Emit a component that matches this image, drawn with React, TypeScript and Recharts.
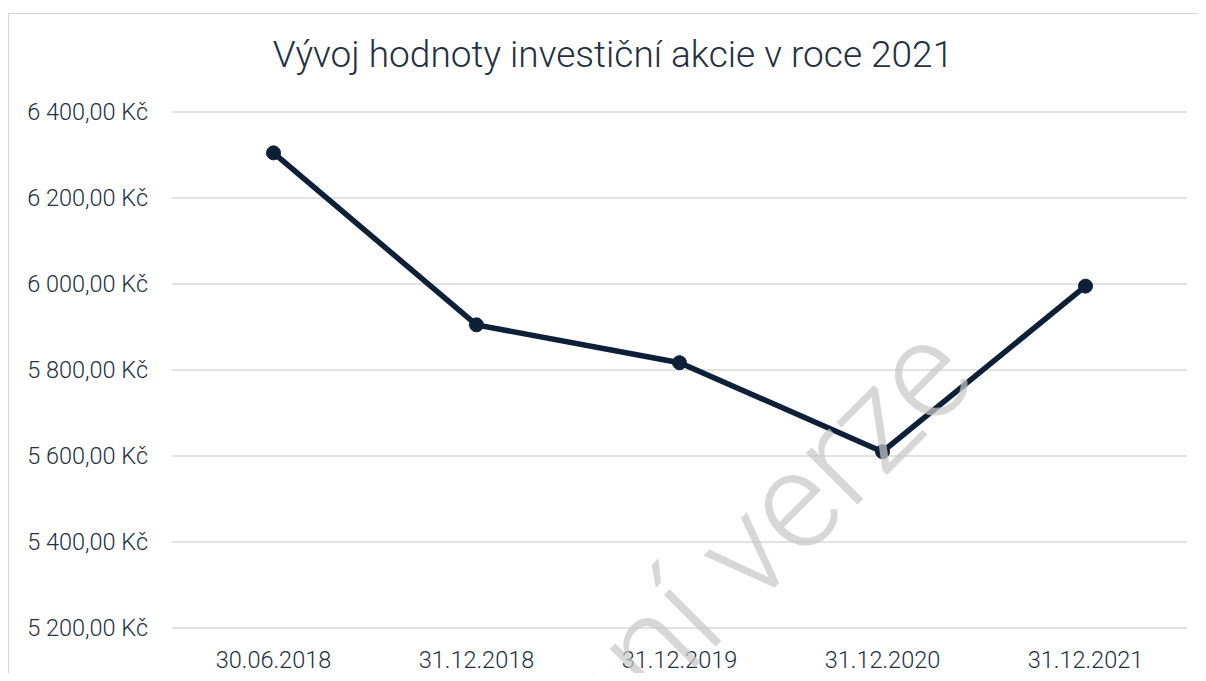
import React from "react";
import { LineChart, Line, XAxis, YAxis, CartesianGrid } from "recharts";

const categories = ["30.06.2018", "31.12.2018", "31.12.2019", "31.12.2020", "31.12.2021"];
const values = [6305, 5905, 5817, 5610, 5995];
const yTicks = [5200, 5400, 5600, 5800, 6000, 6200, 6400];
const title = "Vývoj hodnoty investiční akcie v roce 2021";
const watermark = "Zkušební verze";

const data = categories.map((c, i) => ({ name: c, value: values[i] }));

const fmt = (v: number) => {
  const s = Math.round(v).toString();
  const withSep = s.replace(/\B(?=(\d{3})+(?!\d))/g, " ");
  return `${withSep},00 Kč`;
};

const W = 1190;
const H = 665;
const textColor = "#23303f";
const font = "Roboto, 'Open Sans', sans-serif";

export default function App() {
  return (
    <div style={{ position: "relative", width: W + 8, height: H, background: "#fff", overflow: "hidden" }}>
      <div
        style={{
          position: "absolute",
          left: 0,
          top: 5,
          width: W + 20,
          height: H,
          borderLeft: "1px solid #d6d6d6",
          borderTop: "1px solid #d6d6d6",
          boxSizing: "border-box",
        }}
      />
      <div style={{ position: "absolute", left: 0, top: 0 }}>
        <LineChart width={W} height={H} data={data} margin={{ top: 104, right: 11, bottom: 0, left: 0 }}>
          <CartesianGrid vertical={false} stroke="#d9d9d9" strokeWidth={1.5} />
          <XAxis
            dataKey="name"
            axisLine={false}
            tickLine={false}
            tickSize={0}
            tickMargin={23}
            height={45}
            interval={0}
            padding={{ left: 101.5, right: 101.5 }}
            tick={{ fill: textColor, fontSize: 23.5, fontWeight: 300, fontFamily: font }}
          />
          <YAxis
            domain={[5200, 6400]}
            ticks={yTicks}
            tickFormatter={fmt}
            axisLine={false}
            tickLine={false}
            tickSize={0}
            tickMargin={24}
            width={164}
            interval={0}
            tick={{ fill: textColor, fontSize: 23.5, fontWeight: 300, fontFamily: font }}
          />
          <Line
            type="linear"
            dataKey="value"
            stroke="#0e2038"
            strokeWidth={5.5}
            dot={{ r: 7, fill: "#0e2038", stroke: "#0e2038", strokeWidth: 1 }}
            isAnimationActive={false}
          />
        </LineChart>
      </div>
      <svg
        width={W + 8}
        height={H}
        style={{ position: "absolute", left: 0, top: 0, pointerEvents: "none" }}
      >
        <text
          x={605}
          y={59}
          textAnchor="middle"
          fill={textColor}
          fontSize={37}
          fontWeight={300}
          fontFamily={font}
        >
          {title}
        </text>
        <text
          x={972}
          y={374}
          textAnchor="end"
          fill="rgba(200,200,200,0.72)"
          fontSize={138}
          fontWeight={300}
          fontFamily={font}
          transform="rotate(-45, 972, 374)"
        >
          {watermark}
        </text>
      </svg>
    </div>
  );
}
